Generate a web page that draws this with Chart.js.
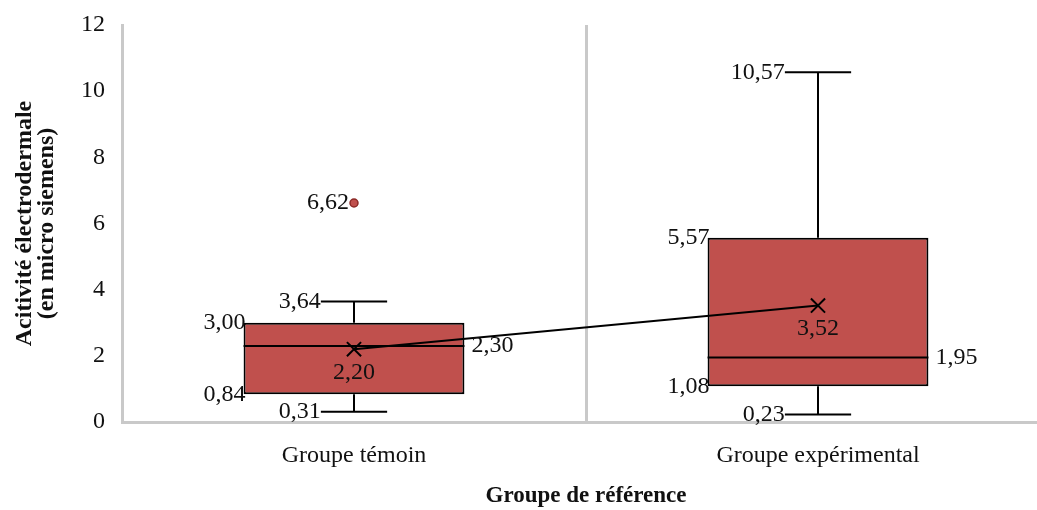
<!DOCTYPE html>
<html>
<head>
<meta charset="utf-8">
<script src="https://cdn.jsdelivr.net/npm/chart.js@4"></script>
<style>
  html, body { margin: 0; padding: 0; overflow: hidden; background: #fff; }
  #wrap { position: absolute; left: 0; top: 0; width: 1050px; height: 510px; }
  #box-chart { width: 1050px; height: 510px; }
</style>
</head>
<body>
<div id="wrap"><canvas id="box-chart" width="1050" height="510"></canvas></div>
<script>
// values
const categories = ['Groupe témoin', 'Groupe expérimental'];
const minValues = [0.31, 0.23];
const q1Values = [0.84, 1.08];
const medianValues = [2.30, 1.95];
const q3Values = [3.00, 5.57];
const maxValues = [3.64, 10.57];
const meanValues = [2.20, 3.52];
const outlierValues = [6.62, null];

const serif = '"Liberation Serif", "Times New Roman", serif';
const gray = '#c9c9c9';
const fmt = v => v.toFixed(2).replace('.', ',');

// whiskers + median lines, drawn right after the boxes
const boxExtras = {
    id: 'boxExtras',
    afterDatasetDraw(chart, args) {
        if (args.index !== 0) return;
        const ctx = chart.ctx;
        const y = chart.scales.y;
        ctx.save();
        ctx.strokeStyle = '#000';
        ctx.lineWidth = 2;
        args.meta.data.forEach((bar, i) => {
            const half = bar.width / 2;
            const cap = bar.width * 0.15;
            const x = bar.x;
            ctx.beginPath();
            // upper whisker
            ctx.moveTo(x, y.getPixelForValue(q3Values[i]));
            ctx.lineTo(x, y.getPixelForValue(maxValues[i]));
            ctx.moveTo(x - cap, y.getPixelForValue(maxValues[i]));
            ctx.lineTo(x + cap, y.getPixelForValue(maxValues[i]));
            // lower whisker
            ctx.moveTo(x, y.getPixelForValue(q1Values[i]));
            ctx.lineTo(x, y.getPixelForValue(minValues[i]));
            ctx.moveTo(x - cap, y.getPixelForValue(minValues[i]));
            ctx.lineTo(x + cap, y.getPixelForValue(minValues[i]));
            // median
            ctx.moveTo(x - half, y.getPixelForValue(medianValues[i]));
            ctx.lineTo(x + half, y.getPixelForValue(medianValues[i]));
            ctx.stroke();
        });
        ctx.restore();
    },
    afterDatasetsDraw(chart) {
        const ctx = chart.ctx;
        const y = chart.scales.y;
        const bars = chart.getDatasetMeta(0).data;
        ctx.save();
        ctx.font = '24px ' + serif;
        ctx.fillStyle = '#111';
        ctx.textBaseline = 'middle';
        bars.forEach((bar, i) => {
            const half = bar.width / 2;
            const cap = bar.width * 0.15;
            const x = bar.x;
            ctx.textAlign = 'right';
            ctx.fillText(fmt(q3Values[i]), x - half + 2, y.getPixelForValue(q3Values[i]));
            ctx.fillText(fmt(q1Values[i]), x - half + 2, y.getPixelForValue(q1Values[i]));
            ctx.fillText(fmt(maxValues[i]), x - cap, y.getPixelForValue(maxValues[i]));
            ctx.fillText(fmt(minValues[i]), x - cap, y.getPixelForValue(minValues[i]));
            if (outlierValues[i] != null) {
                ctx.fillText(fmt(outlierValues[i]), x - 5, y.getPixelForValue(outlierValues[i]));
            }
            ctx.textAlign = 'left';
            ctx.fillText(fmt(medianValues[i]), x + half + 7, y.getPixelForValue(medianValues[i]));
            ctx.textAlign = 'center';
            ctx.fillText(fmt(meanValues[i]), x, y.getPixelForValue(meanValues[i]) + 23);
        });
        ctx.restore();
    }
};

new Chart(document.querySelector('#box-chart'), {
    type: 'bar',
    data: {
        labels: categories,
        datasets: [{
            data: categories.map((c, i) => [q1Values[i], q3Values[i]]),
            backgroundColor: '#C0504D',
            borderColor: '#000',
            borderWidth: 2,
            borderSkipped: false,
            barPercentage: 0.476,
            categoryPercentage: 1,
            order: 3
        }, {
            type: 'line',
            data: meanValues,
            borderColor: '#000',
            borderWidth: 2,
            pointStyle: 'crossRot',
            pointRadius: 10,
            pointBorderWidth: 2,
            pointBorderColor: '#000',
            tension: 0,
            order: 2
        }, {
            type: 'line',
            data: outlierValues,
            showLine: false,
            pointRadius: 4,
            pointBackgroundColor: '#C0504D',
            pointBorderColor: '#8c2a27',
            pointBorderWidth: 1.5,
            order: 1
        }]
    },
    options: {
        responsive: false,
        maintainAspectRatio: false,
        animation: false,
        devicePixelRatio: 1,
        layout: { autoPadding: false, padding: { top: 25, right: 0, bottom: 0, left: 0 } },
        plugins: {
            legend: { display: false },
            tooltip: { enabled: false }
        },
        scales: {
            x: {
                grid: { offset: true, color: gray, lineWidth: 3, drawTicks: false },
                border: { color: gray, width: 3 },
                ticks: { color: '#111', font: { family: serif, size: 24 }, padding: 19 },
                title: {
                    display: true,
                    text: 'Groupe de référence',
                    color: '#111',
                    font: { family: serif, size: 23, weight: 'bold' },
                    padding: { top: 0, bottom: 0 }
                },
                afterFit: scale => { scale.height = 88; scale.paddingLeft = 0; scale.paddingRight = 0; }
            },
            y: {
                min: 0,
                max: 12,
                ticks: { stepSize: 2, color: '#111', font: { family: serif, size: 24 }, padding: 17 },
                grid: { display: false, drawTicks: false },
                border: { display: true, color: gray, width: 3 },
                title: {
                    display: true,
                    text: ['Acitivité électrodermale', '(en micro siemens)'],
                    color: '#111',
                    font: { family: serif, size: 24, weight: 'bold', lineHeight: 0.95 },
                    padding: { top: 13, bottom: 0 }
                },
                afterFit: scale => { scale.width = 122; scale.paddingTop = 0; scale.paddingBottom = 0; }
            }
        }
    },
    plugins: [boxExtras]
});
</script>
</body>
</html>
